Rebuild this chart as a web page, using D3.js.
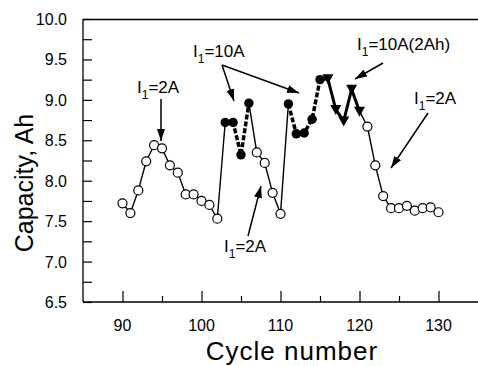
<!DOCTYPE html>
<html>
<head>
<meta charset="utf-8">
<script src="https://cdn.jsdelivr.net/npm/d3@7/dist/d3.min.js"></script>
<style>
  html, body { margin: 0; padding: 0; background: #fff; }
  svg { display: block; }
  text { font-family: "Liberation Sans", Arial, sans-serif; fill: #000; }
</style>
</head>
<body>
<svg id="chart" width="478" height="366"></svg>
<script>
// Capacity per cycle, split by charge regime
const openCyclesA = [90, 91, 92, 93, 94, 95, 96, 97, 98, 99, 100, 101, 102];
const openValuesA = [7.72, 7.60, 7.88, 8.24, 8.44, 8.40, 8.19, 8.10, 7.83, 7.83, 7.75, 7.70, 7.53];
const filledCyclesA = [103, 104, 105, 106];
const filledValuesA = [8.72, 8.72, 8.32, 8.96];
const openCyclesB = [107, 108, 109, 110];
const openValuesB = [8.35, 8.22, 7.85, 7.59];
const filledCyclesB = [111, 112, 113, 114, 115];
const filledValuesB = [8.95, 8.58, 8.59, 8.76, 9.25];
const triCycles = [116, 117, 118, 119, 120];
const triValues = [9.26, 8.88, 8.74, 9.13, 8.86];
const openCyclesC = [121, 122, 123, 124, 125, 126, 127, 128, 129, 130];
const openValuesC = [8.67, 8.19, 7.81, 7.66, 7.66, 7.69, 7.63, 7.66, 7.67, 7.61];

const xTicks = [90, 100, 110, 120, 130];
const yTicks = [6.5, 7.0, 7.5, 8.0, 8.5, 9.0, 9.5, 10.0];

const zip = (xs, ys) => xs.map((c, i) => ({ c, v: ys[i] }));
const openA = zip(openCyclesA, openValuesA);
const filledA = zip(filledCyclesA, filledValuesA);
const openB = zip(openCyclesB, openValuesB);
const filledB = zip(filledCyclesB, filledValuesB);
const tri = zip(triCycles, triValues);
const openC = zip(openCyclesC, openValuesC);

const svg = d3.select("#chart");
const L = 83, R = 478, T = 19, B = 302;

const x = d3.scaleLinear().domain([85, 135]).range([L, R]);
const y = d3.scaleLinear().domain([6.5, 10]).range([B, T]);

// frame
svg.append("line").attr("x1", L).attr("x2", R).attr("y1", T + 0.5).attr("y2", T + 0.5)
  .attr("stroke", "#000").attr("stroke-width", 1.3);

// axes with inward ticks
svg.append("g").attr("transform", `translate(0,${B})`)
  .call(d3.axisTop(x).tickValues(xTicks).tickSize(11).tickFormat(""))
  .select(".domain").remove();
svg.append("g").attr("transform", `translate(0,${B})`)
  .call(d3.axisTop(x).tickValues(d3.range(95, 135, 10)).tickSize(6).tickFormat(""))
  .select(".domain").remove();
svg.append("line").attr("x1", L).attr("x2", R).attr("y1", B).attr("y2", B)
  .attr("stroke", "#000").attr("stroke-width", 1.3);

svg.append("g").attr("transform", `translate(${L},0)`)
  .call(d3.axisRight(y).tickValues(yTicks).tickSize(9).tickFormat(""))
  .select(".domain").remove();
svg.append("g").attr("transform", `translate(${L},0)`)
  .call(d3.axisRight(y).tickValues(d3.range(6.75, 10, 0.5)).tickSize(9).tickFormat(""))
  .select(".domain").remove();
svg.append("line").attr("x1", L).attr("x2", L).attr("y1", T).attr("y2", B)
  .attr("stroke", "#000").attr("stroke-width", 1.3);
svg.selectAll(".tick line").attr("stroke", "#000").attr("stroke-width", 1.2);

// tick labels
svg.append("g").selectAll("text").data(xTicks).join("text")
  .attr("x", d => x(d)).attr("y", B + 29).attr("text-anchor", "middle")
  .attr("font-size", 16).text(d => d);
svg.append("g").selectAll("text").data(yTicks).join("text")
  .attr("x", L - 16).attr("y", d => y(d) + 6).attr("text-anchor", "end")
  .attr("font-size", 16).text(d => d.toFixed(1));

// axis titles
svg.append("text").attr("x", 292).attr("y", 360).attr("text-anchor", "middle")
  .attr("font-size", 26).attr("letter-spacing", 1).text("Cycle number");
svg.append("text").attr("transform", "translate(33,183) rotate(-90)")
  .attr("text-anchor", "middle").attr("font-size", 25).text("Capacity, Ah");

// connecting lines
const line = d3.line().x(d => x(d.c)).y(d => y(d.v));
const thinRuns = [
  openA.concat([filledA[0]]),
  [filledA[filledA.length - 1]].concat(openB, [filledB[0]]),
  [tri[tri.length - 1]].concat(openC)
];
thinRuns.forEach(run => svg.append("path").attr("d", line(run))
  .attr("fill", "none").attr("stroke", "#000").attr("stroke-width", 1.4));

[filledA, filledB].forEach(run => svg.append("path").attr("d", line(run))
  .attr("fill", "none").attr("stroke", "#000").attr("stroke-width", 3.5)
  .attr("stroke-dasharray", "5,2"));

svg.append("path").attr("d", line([filledB[filledB.length - 1]].concat(tri)))
  .attr("fill", "none").attr("stroke", "#000").attr("stroke-width", 3);

// markers
[openA, openB, openC].forEach(run => svg.append("g").selectAll("circle").data(run).join("circle")
  .attr("cx", d => x(d.c)).attr("cy", d => y(d.v)).attr("r", 4.5)
  .attr("fill", "#fff").attr("stroke", "#000").attr("stroke-width", 1.2));
[filledA, filledB].forEach(run => svg.append("g").selectAll("circle").data(run).join("circle")
  .attr("cx", d => x(d.c)).attr("cy", d => y(d.v)).attr("r", 4.7).attr("fill", "#000"));
svg.append("g").selectAll("path").data(tri).join("path")
  .attr("transform", d => `translate(${x(d.c)},${y(d.v)})`)
  .attr("d", "M-5.5,-4.5L5.5,-4.5L0,5.5Z").attr("fill", "#000");

// annotations
const defs = svg.append("defs");
defs.append("marker").attr("id", "head").attr("viewBox", "0 0 12 8")
  .attr("refX", 12).attr("refY", 4).attr("markerWidth", 12).attr("markerHeight", 8)
  .attr("markerUnits", "userSpaceOnUse").attr("orient", "auto")
  .append("path").attr("d", "M0,0L12,4L0,8Z").attr("fill", "#000");

function label(px, py, main) {
  const t = svg.append("text").attr("x", px).attr("y", py).attr("font-size", 17);
  t.append("tspan").text("I");
  t.append("tspan").attr("font-size", 12).attr("dy", 6).text("1");
  t.append("tspan").attr("dy", -6).text(main);
}
function arrow(x1, y1, x2, y2) {
  svg.append("line").attr("x1", x1).attr("y1", y1).attr("x2", x2).attr("y2", y2)
    .attr("stroke", "#000").attr("stroke-width", 1.5).attr("marker-end", "url(#head)");
}

label(137, 93, "=2A");
arrow(161, 99, 161, 141);
label(193, 57, "=10A");
arrow(222, 65, 234, 101);
arrow(222, 65, 299, 93);
label(357, 50, "=10A(2Ah)");
arrow(383, 63, 355, 79);
label(414, 104, "=2A");
arrow(428, 113, 391, 168);
label(224, 252, "=2A");
arrow(248, 236, 261, 186);
</script>
</body>
</html>
